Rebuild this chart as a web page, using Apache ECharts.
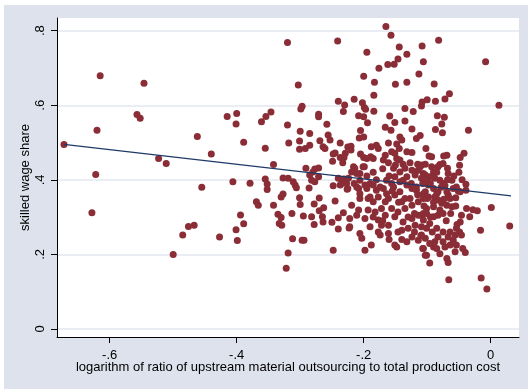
<!DOCTYPE html>
<html>
<head>
<meta charset="utf-8">
<script src="https://cdn.jsdelivr.net/npm/echarts@6/dist/echarts.min.js"></script>
<style>
  html, body { margin: 0; padding: 0; background: #ffffff; }
  #chart { position: absolute; left: 4px; top: 5px; width: 524px; height: 384px; background: #dde2ec; }
</style>
</head>
<body>
<div id="chart"></div>
<script>
// Industry observations: [log ratio of upstream outsourcing, skilled wage share]
const obs = [
  [-0.672,0.495],[-0.615,0.679],[-0.620,0.533],[-0.622,0.414],[-0.628,0.312],[-0.546,0.659],
  [-0.557,0.575],[-0.552,0.565],[-0.523,0.457],[-0.511,0.444],[-0.462,0.516],[-0.440,0.469],
  [-0.455,0.380],[-0.415,0.570],[-0.400,0.578],[-0.401,0.550],[-0.389,0.501],[-0.406,0.395],
  [-0.379,0.391],[-0.361,0.556],[-0.354,0.570],[-0.346,0.582],[-0.355,0.485],[-0.342,0.441],
  [-0.355,0.402],[-0.352,0.389],[-0.352,0.374],[-0.369,0.341],[-0.366,0.332],[-0.342,0.332],
  [-0.394,0.306],[-0.389,0.282],[-0.401,0.266],[-0.399,0.237],[-0.427,0.247],[-0.467,0.278],
  [-0.476,0.275],[-0.485,0.252],[-0.500,0.200],[-0.335,0.308],[-0.333,0.283],
  [-0.320,0.768],[-0.241,0.772],[-0.303,0.654],[-0.240,0.611],[-0.230,0.601],[-0.232,0.583],
  [-0.297,0.597],[-0.299,0.590],[-0.271,0.576],[-0.271,0.569],[-0.320,0.547],[-0.258,0.549],
  [-0.300,0.530],[-0.285,0.524],[-0.256,0.520],[-0.253,0.507],[-0.269,0.505],[-0.318,0.499],
  [-0.301,0.504],[-0.237,0.499],[-0.285,0.493],[-0.292,0.484],[-0.301,0.482],[-0.264,0.489],
  [-0.261,0.484],[-0.225,0.488],[-0.245,0.472],[-0.248,0.469],[-0.229,0.471],[-0.237,0.460],
  [-0.231,0.460],[-0.249,0.450],[-0.233,0.446],[-0.291,0.431],[-0.271,0.432],[-0.277,0.429],
  [-0.280,0.421],[-0.285,0.413],[-0.271,0.408],[-0.282,0.399],[-0.277,0.395],[-0.240,0.404],
  [-0.231,0.402],[-0.235,0.390],[-0.227,0.390],[-0.237,0.386],[-0.327,0.405],[-0.319,0.404],
  [-0.311,0.395],[-0.308,0.386],[-0.306,0.379],[-0.286,0.378],[-0.248,0.384],[-0.226,0.375],
  [-0.327,0.362],[-0.330,0.354],[-0.301,0.352],[-0.270,0.351],[-0.245,0.343],[-0.300,0.334],
  [-0.278,0.335],[-0.263,0.325],[-0.270,0.317],[-0.232,0.312],[-0.330,0.299],[-0.313,0.310],
  [-0.295,0.303],[-0.282,0.301],[-0.265,0.301],[-0.264,0.287],[-0.240,0.298],[-0.250,0.286],
  [-0.278,0.280],[-0.329,0.278],[-0.223,0.271],[-0.240,0.268],[-0.312,0.242],[-0.297,0.238],
  [-0.294,0.238],[-0.248,0.211],[-0.319,0.204],[-0.322,0.163],
  [-0.165,0.811],[-0.157,0.788],[-0.144,0.756],[-0.108,0.759],[-0.195,0.742],[-0.132,0.737],
  [-0.146,0.724],[-0.106,0.717],[-0.162,0.709],[-0.152,0.710],[-0.176,0.699],[-0.113,0.684],
  [-0.200,0.678],[-0.183,0.662],[-0.150,0.656],[-0.132,0.662],[-0.184,0.627],[-0.215,0.616],
  [-0.202,0.607],[-0.108,0.609],[-0.199,0.594],[-0.197,0.589],[-0.135,0.591],[-0.122,0.583],
  [-0.184,0.584],[-0.208,0.572],[-0.200,0.569],[-0.159,0.571],[-0.194,0.553],[-0.151,0.554],
  [-0.135,0.558],[-0.166,0.541],[-0.157,0.533],[-0.124,0.536],[-0.205,0.532],[-0.200,0.515],
  [-0.207,0.512],[-0.143,0.515],[-0.111,0.519],[-0.117,0.511],[-0.180,0.493],[-0.188,0.489],
  [-0.177,0.484],[-0.161,0.499],[-0.148,0.496],[-0.144,0.484],[-0.156,0.475],[-0.151,0.471],
  [-0.220,0.490],[-0.220,0.480],[-0.124,0.473],[-0.205,0.469],[-0.189,0.462],[-0.185,0.457],
  [-0.166,0.466],[-0.169,0.453],[-0.161,0.446],[-0.143,0.453],[-0.138,0.442],[-0.127,0.446],
  [-0.115,0.442],[-0.109,0.440],[-0.200,0.460],[-0.199,0.435],[-0.216,0.435],[-0.153,0.431],
  [-0.082,0.774],[-0.008,0.717],[-0.089,0.657],[-0.065,0.631],[-0.072,0.617],[-0.087,0.611],
  [-0.100,0.615],[-0.109,0.598],[0.013,0.600],[-0.084,0.572],[-0.073,0.568],[-0.077,0.550],
  [-0.087,0.535],[-0.076,0.526],[-0.035,0.533],[-0.102,0.484],[-0.097,0.464],[-0.093,0.462],
  [-0.074,0.464],[-0.069,0.466],[-0.048,0.460],[-0.042,0.471],[-0.049,0.439],[-0.103,0.442],
  [-0.080,0.441],[-0.075,0.444],[-0.068,0.431],
  [0.001,0.326],[0.030,0.276],[-0.016,0.265],[-0.066,0.132],[-0.015,0.137],[-0.006,0.107],
  [-0.039,0.388],[-0.039,0.372],[-0.059,0.377],[-0.051,0.370],[-0.055,0.352],[-0.038,0.323],
  [-0.028,0.320],[-0.021,0.317],[-0.033,0.301],[-0.046,0.305],[-0.067,0.417],[-0.075,0.390],
  [-0.072,0.384],[-0.067,0.359],[-0.064,0.350],[-0.074,0.348],[-0.083,0.435],[-0.090,0.421],
  [-0.096,0.408],[-0.088,0.404],[-0.103,0.413],[-0.107,0.390],[-0.098,0.386],[-0.090,0.377],
  [-0.083,0.368],[-0.103,0.368],[-0.098,0.354],[-0.088,0.354],[-0.083,0.346],[-0.077,0.337],
  [-0.069,0.332],[-0.061,0.328],[-0.090,0.328],[-0.101,0.323],[-0.080,0.319],[-0.109,0.305],
  [-0.101,0.310],[-0.090,0.301],[-0.083,0.305],[-0.075,0.310],[-0.048,0.287],[-0.053,0.280],
  [-0.054,0.270],[-0.049,0.260],[-0.046,0.252],[-0.056,0.252],[-0.064,0.260],[-0.067,0.247],
  [-0.059,0.238],[-0.054,0.225],[-0.044,0.216],[-0.040,0.205],[-0.056,0.207],[-0.064,0.225],
  [-0.075,0.234],[-0.072,0.220],[-0.083,0.247],[-0.088,0.234],[-0.090,0.220],[-0.096,0.229],
  [-0.103,0.243],[-0.109,0.252],[-0.101,0.198],[-0.096,0.177],[-0.080,0.202],[-0.069,0.189],
  [-0.067,0.178],[-0.085,0.216],[-0.107,0.216],[-0.109,0.274],[-0.101,0.270],[-0.106,0.292],
  [-0.096,0.283],
  [-0.214,0.431],[-0.201,0.435],[-0.219,0.421],[-0.206,0.417],[-0.224,0.404],[-0.225,0.377],
  [-0.208,0.377],[-0.206,0.350],[-0.193,0.350],[-0.198,0.386],[-0.190,0.390],[-0.185,0.386],
  [-0.180,0.372],[-0.177,0.354],[-0.185,0.341],[-0.169,0.377],[-0.164,0.399],[-0.156,0.390],
  [-0.151,0.408],[-0.143,0.421],[-0.135,0.431],[-0.124,0.426],[-0.119,0.413],[-0.114,0.426],
  [-0.109,0.404],[-0.138,0.399],[-0.132,0.386],[-0.124,0.377],[-0.117,0.372],[-0.143,0.368],
  [-0.151,0.359],[-0.161,0.350],[-0.166,0.341],[-0.156,0.323],[-0.146,0.314],[-0.135,0.323],
  [-0.124,0.332],[-0.114,0.341],[-0.106,0.350],[-0.127,0.350],[-0.140,0.341],[-0.172,0.323],
  [-0.182,0.314],[-0.193,0.319],[-0.208,0.319],[-0.219,0.332],[-0.222,0.296],[-0.211,0.305],
  [-0.198,0.296],[-0.190,0.274],[-0.177,0.292],[-0.166,0.305],[-0.151,0.301],[-0.138,0.287],
  [-0.124,0.296],[-0.114,0.305],[-0.106,0.310],[-0.119,0.278],[-0.130,0.270],[-0.140,0.265],
  [-0.146,0.260],[-0.161,0.256],[-0.174,0.252],[-0.177,0.260],[-0.206,0.256],[-0.203,0.243],
  [-0.222,0.274],[-0.188,0.225],[-0.198,0.211],[-0.151,0.225],[-0.148,0.220],[-0.124,0.247],
  [-0.114,0.238],[-0.106,0.216],[-0.132,0.234],[-0.103,0.198],[-0.172,0.278],[-0.161,0.278],
  [-0.211,0.417],[-0.206,0.399],[-0.195,0.457],[-0.148,0.457],[-0.140,0.507],[-0.132,0.475],
  [-0.111,0.435],[-0.106,0.417],[-0.101,0.399],[-0.093,0.435],[-0.132,0.408],[-0.143,0.395],
  [-0.153,0.381],[-0.164,0.363],[-0.174,0.381],[-0.195,0.377],[-0.206,0.363],[-0.211,0.381],
  [-0.190,0.354],[-0.117,0.381],[-0.106,0.363],[-0.080,0.399],[-0.061,0.399],[-0.054,0.381],
  [-0.048,0.368],[-0.069,0.368],[-0.085,0.363],
  [-0.160,0.410],[-0.170,0.430],[-0.150,0.440],[-0.125,0.390],[-0.115,0.360],[-0.105,0.330],
  [-0.095,0.390],[-0.085,0.420],[-0.078,0.380],[-0.068,0.400],[-0.058,0.410],[-0.050,0.420],
  [-0.045,0.400],[-0.055,0.330],[-0.063,0.310],[-0.070,0.290],[-0.085,0.270],[-0.092,0.260],
  [-0.075,0.260],[-0.100,0.350],[-0.090,0.340],[-0.095,0.300],[-0.120,0.310],[-0.130,0.300],
  [-0.135,0.350],[-0.145,0.340],[-0.155,0.370],[-0.180,0.400],[-0.185,0.420],[-0.195,0.410],
  [-0.215,0.390],[-0.185,0.300],[-0.170,0.290],[-0.160,0.240],[-0.140,0.240],[-0.120,0.260],
  [-0.110,0.250]
];

// Fitted values of the linear regression, at the smallest and largest x
const fitX = [-0.672, 0.032];
const fitY = [0.495, 0.357];

// Axis ticks
const xTicks = [-0.6, -0.4, -0.2, 0];
const yTicks = [0, 0.2, 0.4, 0.6, 0.8];

// Stata-style labels: "-.6", ".8", "0"
function stataLabel(v) {
  const r = Math.round(v * 10) / 10;
  if (r === 0) return '0';
  const s = Math.abs(r).toFixed(1).replace(/^0/, '');
  return (r < 0 ? '-' : '') + s;
}

const textStyle = { fontFamily: 'Liberation Sans, Arial, sans-serif', fontSize: 13, color: '#000' };
const gridColor = '#e3e8f0';

const chart = echarts.init(document.getElementById('chart'), null, { renderer: 'canvas' });
chart.setOption({
  animation: false,
  backgroundColor: '#dde2ec',
  grid: {
    left: 53, right: 9, top: 13, bottom: 52,
    show: true, backgroundColor: '#ffffff', borderWidth: 0
  },
  xAxis: {
    type: 'value',
    min: -0.683, max: 0.0446,
    name: 'logarithm of ratio of upstream material outsourcing to total production cost',
    nameLocation: 'middle', nameGap: 24, nameMoveOverlap: false,
    nameTextStyle: textStyle,
    axisLine: { show: true, onZero: false, lineStyle: { color: '#000', width: 1 } },
    axisTick: { show: true, length: 6, customValues: xTicks, lineStyle: { color: '#000' } },
    axisLabel: { customValues: xTicks, margin: 12, formatter: stataLabel, ...textStyle },
    splitLine: { show: false }
  },
  yAxis: {
    type: 'value',
    min: -0.0215, max: 0.834,
    name: 'skilled wage share',
    nameLocation: 'middle', nameGap: 25, nameRotate: 90, nameMoveOverlap: false,
    nameTextStyle: textStyle,
    axisLine: { show: true, onZero: false, lineStyle: { color: '#000', width: 1 } },
    axisTick: { show: true, length: 6, customValues: yTicks, lineStyle: { color: '#000' } },
    axisLabel: { customValues: yTicks, margin: 10, rotate: 90, formatter: stataLabel, ...textStyle },
    splitLine: { show: true, lineStyle: { color: gridColor, width: 1.5 } }
  },
  series: [
    {
      type: 'scatter',
      data: obs,
      symbol: 'circle',
      symbolSize: 7,
      itemStyle: { color: '#8a2d36', opacity: 1 },
      z: 2
    },
    {
      type: 'line',
      data: fitX.map((x, i) => [x, fitY[i]]),
      symbol: 'none',
      lineStyle: { color: '#1f3a68', width: 1.3 },
      z: 3
    }
  ]
});
</script>
</body>
</html>
